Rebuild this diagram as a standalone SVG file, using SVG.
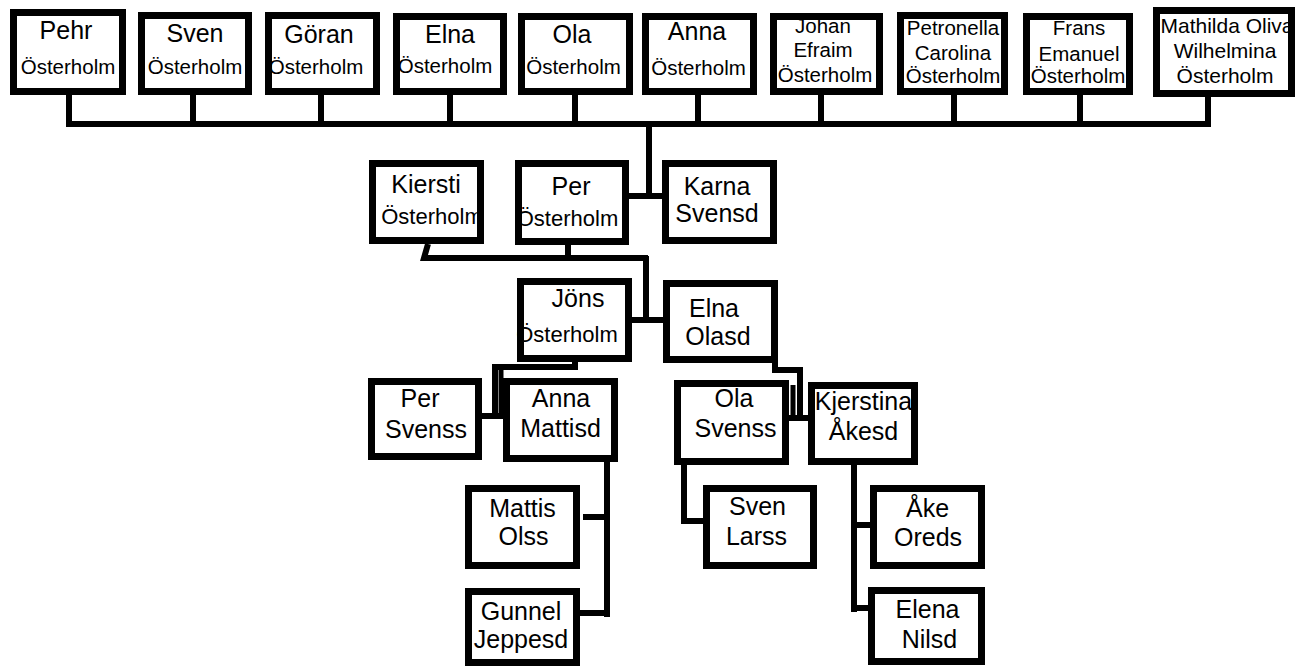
<svg xmlns="http://www.w3.org/2000/svg" width="1309" height="668" viewBox="0 0 1309 668">
<style>
.box{fill:#fff;stroke:#000;stroke-width:7}
.ln{fill:none;stroke:#000;stroke-width:6}
.thin{fill:none;stroke:#000;stroke-width:5}
text{font-family:"Liberation Sans",Arial,sans-serif;fill:#000;text-anchor:middle}
.n{font-size:25px}
.s{font-size:20.5px}
.m{font-size:22px}
</style>
<rect width="1309" height="668" fill="#fff"/>
<g id="connectors">
<path class="ln" d="M66,124 H1211"/>
<path class="ln" d="M69,95 V127 M193,95 V127 M321,95 V127 M450,95 V127 M575,95 V127 M698,95 V127 M821,95 V127 M954,95 V127 M1080,95 V127 M1208,97 V127"/>
<path class="ln" d="M649,124 V199 M628,196 H662"/>
<path class="ln" d="M428,244 L424,258 H648 M568,245 V258 M646,256 V320 M632,320 H663"/>
<path class="ln" d="M575,362 V367 H495 V419 M482,416 H505"/>
<path class="thin" d="M501,370 V416"/>
<path class="ln" d="M775,363 V370 H800 V421 M789,418 H808"/>
<path class="thin" d="M793,385 V418"/>
<path class="ln" d="M607,462 V617 M583,517 H607 M580,613 H607"/>
<path class="ln" d="M684,465 V521 H703"/>
<path class="ln" d="M854,465 V612 M856,525 H870 M854,608 H868"/>
</g>
<g id="pehr"><rect class="box" x="13.5" y="12.5" width="109" height="79"/><text class="n" x="66" y="39">Pehr</text><text class="s" x="68" y="74">Österholm</text></g>
<g id="sven"><rect class="box" x="141.5" y="15.5" width="107" height="76"/><text class="n" x="195" y="42">Sven</text><text class="s" x="195" y="74">Österholm</text></g>
<g id="goran"><rect class="box" x="268.5" y="15.5" width="108" height="76"/><text class="n" x="319" y="43">Göran</text><text class="s" x="316" y="74">Österholm</text></g>
<g id="elna"><rect class="box" x="396.5" y="16.5" width="107" height="75"/><text class="n" x="450" y="43">Elna</text><text class="s" x="445" y="73">Österholm</text></g>
<g id="ola"><rect class="box" x="521.5" y="16.5" width="108" height="75"/><text class="n" x="572" y="43">Ola</text><text class="s" x="573.5" y="74">Österholm</text></g>
<g id="anna"><rect class="box" x="645.5" y="16.5" width="108" height="75"/><text class="n" x="697" y="40">Anna</text><text class="s" x="698.5" y="75">Österholm</text></g>
<g id="johan"><rect class="box" x="773.5" y="16.5" width="106" height="75"/><text class="s" x="823" y="33">Johan</text><text class="s" x="823" y="57">Efraim</text><text class="s" x="825" y="82">Österholm</text></g>
<g id="petronella"><rect class="box" x="900.5" y="15.5" width="104" height="76"/><text class="s" x="953" y="35">Petronella</text><text class="s" x="953" y="60">Carolina</text><text class="s" x="953" y="83">Österholm</text></g>
<g id="frans"><rect class="box" x="1026.5" y="16.5" width="103" height="75"/><text class="s" x="1079" y="35">Frans</text><text class="s" x="1079" y="61">Emanuel</text><text class="s" x="1078" y="83">Österholm</text></g>
<g id="mathilda"><rect class="box" x="1156.5" y="10.5" width="135" height="83"/><text class="s" x="1227" y="33" style="font-size:21px">Mathilda Oliva</text><text class="s" x="1225" y="58" style="font-size:21px">Wilhelmina</text><text class="s" x="1225" y="83" style="font-size:21px">Österholm</text></g>
<g id="kiersti"><rect class="box" x="372.5" y="163.5" width="108" height="77"/><text class="n" x="426" y="193">Kiersti</text><text class="m" x="432" y="224">Österholm</text></g>
<g id="per"><rect class="box" x="518.5" y="163.5" width="107" height="78"/><text class="n" x="571" y="195">Per</text><text class="m" x="567.5" y="226">Österholm</text></g>
<g id="karna"><rect class="box" x="665.5" y="163.5" width="108" height="77"/><text class="n" x="717" y="195">Karna</text><text class="n" x="717" y="222">Svensd</text></g>
<g id="jons"><rect class="box" x="520.5" y="281.5" width="108" height="77"/><text class="n" x="578" y="307">Jöns</text><text class="m" x="567" y="342">Österholm</text></g>
<g id="elna-olasd"><rect class="box" x="666.5" y="283.5" width="108" height="76"/><text class="n" x="714" y="317">Elna</text><text class="n" x="718" y="345">Olasd</text></g>
<g id="per-svenss"><rect class="box" x="371.5" y="381.5" width="107" height="75"/><text class="n" x="420" y="407">Per</text><text class="n" x="426" y="438">Svenss</text></g>
<g id="anna-mattisd"><rect class="box" x="506.5" y="381.5" width="108" height="77"/><text class="n" x="561" y="407">Anna</text><text class="n" x="560.5" y="437">Mattisd</text></g>
<g id="ola-svenss"><rect class="box" x="677.5" y="383.5" width="108" height="78"/><text class="n" x="734" y="407">Ola</text><text class="n" x="735.5" y="437">Svenss</text></g>
<g id="kjerstina"><rect class="box" x="811.5" y="385.5" width="103" height="76"/><text class="n" x="863.5" y="410">Kjerstina</text><text class="n" x="863.5" y="440">Åkesd</text></g>
<g id="mattis"><rect class="box" x="468.5" y="488.5" width="108" height="77"/><text class="n" x="522.5" y="517">Mattis</text><text class="n" x="523.5" y="545">Olss</text></g>
<g id="gunnel"><rect class="box" x="468.5" y="591.5" width="108" height="71"/><text class="n" x="521" y="620">Gunnel</text><text class="n" x="521" y="648">Jeppesd</text></g>
<g id="sven-larss"><rect class="box" x="706.5" y="488.5" width="107" height="77"/><text class="n" x="757.5" y="515">Sven</text><text class="n" x="756.5" y="545">Larss</text></g>
<g id="ake"><rect class="box" x="873.5" y="488.5" width="108" height="77"/><text class="n" x="927.5" y="517">Åke</text><text class="n" x="928" y="546">Oreds</text></g>
<g id="elena"><rect class="box" x="871.5" y="590.5" width="110" height="71"/><text class="n" x="927.5" y="618">Elena</text><text class="n" x="929.5" y="648">Nilsd</text></g>
</svg>
